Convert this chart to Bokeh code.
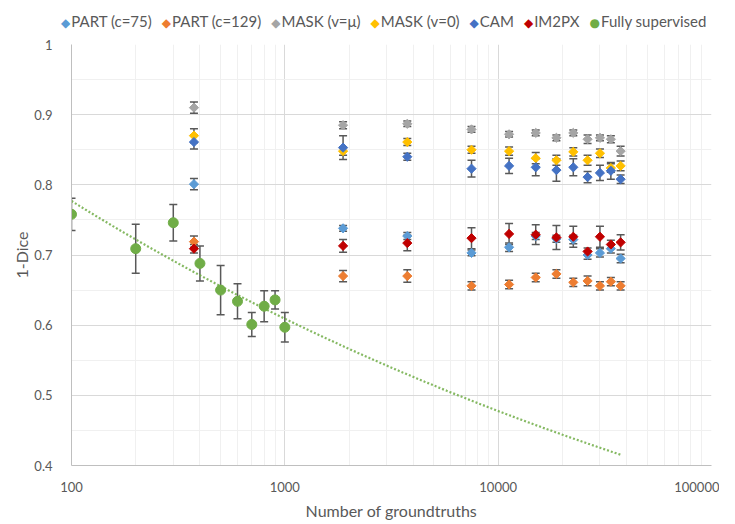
import numpy as np
from bokeh.plotting import figure
from bokeh.layouts import column
from bokeh.models import (ColumnDataSource, Whisker, TeeHead, FixedTicker, Div,
                          CustomJSTickFormatter)
from bokeh.embed import file_html
from bokeh.resources import INLINE

# ---------------- data ----------------
x_semi = [375, 1875, 3750, 7500, 11250, 15000, 18750, 22500, 26250, 30000, 33750, 37500]

part75 = [0.801, 0.738, 0.727, 0.703, 0.711, 0.727, 0.723, 0.722, 0.700, 0.703, 0.709, 0.695]
part75_err = [0.008, 0.004, 0.005, 0.004, 0.006, 0.005, 0.005, 0.006, 0.006, 0.006, 0.006, 0.006]

part129 = [0.719, 0.670, 0.670, 0.656, 0.658, 0.668, 0.673, 0.661, 0.663, 0.656, 0.662, 0.656]
part129_err = [0.008, 0.008, 0.009, 0.006, 0.006, 0.006, 0.006, 0.006, 0.007, 0.006, 0.006, 0.006]

mask_mu = [0.910, 0.885, 0.887, 0.879, 0.872, 0.874, 0.867, 0.874, 0.865, 0.867, 0.865, 0.848]
mask_mu_err = [0.008, 0.005, 0.004, 0.004, 0.004, 0.004, 0.004, 0.004, 0.006, 0.004, 0.005, 0.007]

mask0 = [0.870, 0.848, 0.861, 0.850, 0.848, 0.838, 0.835, 0.847, 0.835, 0.845, 0.824, 0.827]
mask0_err = [0.010, 0.006, 0.005, 0.005, 0.006, 0.008, 0.007, 0.006, 0.007, 0.006, 0.006, 0.007]

cam = [0.861, 0.853, 0.840, 0.823, 0.827, 0.825, 0.821, 0.825, 0.811, 0.817, 0.820, 0.808]
cam_err = [0.010, 0.017, 0.005, 0.012, 0.011, 0.012, 0.016, 0.012, 0.008, 0.011, 0.012, 0.006]

im2px = [0.709, 0.713, 0.717, 0.724, 0.730, 0.729, 0.725, 0.726, 0.705, 0.726, 0.715, 0.718]
im2px_err = [0.006, 0.009, 0.011, 0.015, 0.015, 0.014, 0.017, 0.015, 0.005, 0.015, 0.006, 0.011]

x_full = [100, 200, 300, 400, 500, 600, 700, 800, 900, 1000]
full = [0.758, 0.709, 0.746, 0.688, 0.650, 0.634, 0.601, 0.627, 0.636, 0.597]
full_err = [0.023, 0.035, 0.026, 0.025, 0.035, 0.025, 0.017, 0.022, 0.013, 0.021]

trend_end = 37500

series = [
    ("PART (c=75)", x_semi, part75, part75_err, "#5B9BD5", "diamond"),
    ("PART (c=129)", x_semi, part129, part129_err, "#ED7D31", "diamond"),
    ("MASK (v=\u03bc)", x_semi, mask_mu, mask_mu_err, "#A5A5A5", "diamond"),
    ("MASK (v=0)", x_semi, mask0, mask0_err, "#FFC000", "diamond"),
    ("CAM", x_semi, cam, cam_err, "#4472C4", "diamond"),
    ("IM2PX", x_semi, im2px, im2px_err, "#C00000", "diamond"),
    ("Fully supervised", x_full, full, full_err, "#70AD47", "circle"),
]

x_major = [100, 1000, 10000, 100000]
x_minor = [m * d for d in [100, 1000, 10000] for m in range(2, 10)]
y_major = [0.4, 0.5, 0.6, 0.7, 0.8, 0.9, 1.0]
y_minor = [0.45, 0.55, 0.65, 0.75, 0.85, 0.95]

FONT = "Lato"
TXT = "#595959"

# ---------------- main chart ----------------
p = figure(width=719, height=493, x_axis_type="log", x_range=(100, 100000),
           y_range=(0.4, 1.0), output_backend="svg", toolbar_location=None,
           min_border_left=71, min_border_right=8, min_border_top=14,
           min_border_bottom=58)
p.outline_line_color = None
p.background_fill_color = "white"

xt = FixedTicker(ticks=x_major, minor_ticks=x_minor)
yt = FixedTicker(ticks=y_major, minor_ticks=y_minor)
p.xaxis.ticker = xt
p.yaxis.ticker = yt
p.xgrid.ticker = xt
p.ygrid.ticker = yt
for g in (p.xgrid, p.ygrid):
    g.grid_line_color = "#D9D9D9"
    g.grid_line_width = 1
    g.minor_grid_line_color = "#F0F0F0"
    g.minor_grid_line_width = 1

p.xaxis.major_label_overrides = {100: "100", 1000: "1000", 10000: "10000", 100000: "100000"}
p.yaxis.formatter = CustomJSTickFormatter(code="return tick.toFixed(1).replace(/\\.0$/, '');")

for ax in (p.xaxis, p.yaxis):
    ax.axis_line_color = "#BFBFBF"
    ax.major_tick_line_color = None
    ax.minor_tick_line_color = None
    ax.major_tick_out = 0
    ax.major_tick_in = 0
    ax.major_label_text_font = FONT
    ax.major_label_text_font_size = "13px"
    ax.major_label_text_color = TXT
    ax.axis_label_text_font = FONT
    ax.axis_label_text_font_size = "16px"
    ax.axis_label_text_font_style = "normal"
    ax.axis_label_text_color = TXT

p.xaxis.axis_label = "Number of groundtruths"
p.yaxis.axis_label = "1-Dice"
p.xaxis.major_label_standoff = 12
p.xaxis.axis_label_standoff = 6
p.yaxis.major_label_standoff = 15
p.yaxis.axis_label_standoff = 0

# trendline (power fit of fully supervised data)
b, lna = np.polyfit(np.log(x_full), np.log(full), 1)
tx = np.geomspace(x_full[0], trend_end, 200)
ty = np.exp(lna) * tx ** b
p.line(tx, ty, line_color="#70AD47", line_width=2.2, line_dash="2 2", line_alpha=0.85)

for name, xs, ys, es, col, mk in series:
    lo = [v - e for v, e in zip(ys, es)]
    hi = [v + e for v, e in zip(ys, es)]
    src = ColumnDataSource(dict(x=xs, y=ys, lo=lo, hi=hi))
    w = Whisker(source=src, base="x", upper="hi", lower="lo", dimension="height",
                line_color="#595959", line_width=1.5, level="underlay",
                upper_head=TeeHead(size=8, line_color="#595959", line_width=1.5),
                lower_head=TeeHead(size=8, line_color="#595959", line_width=1.5))
    p.add_layout(w)
    if mk == "circle":
        p.scatter("x", "y", source=src, marker="circle", size=10,
                  fill_color=col, line_color=col)
    else:
        p.scatter("x", "y", source=src, marker="square", size=6.5, angle=np.pi / 4,
                  fill_color=col, line_color=col)

# ---------------- legend strip (HTML) ----------------
symbols = {"diamond": ("\u25C6", "12px"), "circle": ("\u25CF", "12px")}
parts = []
for name, xs, ys, es, col, mk in series:
    ch, fs = symbols[mk]
    parts.append(
        f'<span style="display:inline-block;margin-right:10px;">'
        f'<span style="color:{col};font-family:\'DejaVu Sans\';font-size:{fs};'
        f'margin-right:1px;">{ch}</span>{name}</span>'
    )
legend_html = (
    f'<div style="position:relative;top:6px;padding-left:56px;line-height:20px;'
    f'white-space:nowrap;font-family:{FONT};font-size:15px;color:{TXT};">'
    + "".join(parts) + "</div>"
)
legend_div = Div(text=legend_html, width=719, height=20)

open("out.html", "w").write(file_html(column(legend_div, p, spacing=0), INLINE))
